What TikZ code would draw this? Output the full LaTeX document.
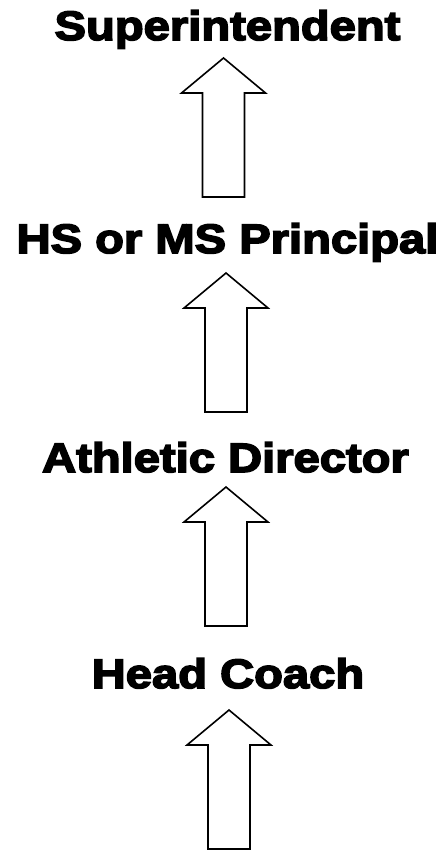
\documentclass[tikz,border=0pt]{standalone}
\usepackage{fontspec}
\newfontfamily\rolefont{Liberation Sans}[FakeStretch=1.15, BoldFeatures={FakeBold=4}]
\usepackage{tikz}
\usetikzlibrary{positioning}

\tikzset{
  role/.style={font=\rolefont\bfseries\fontsize{41}{48}\selectfont, anchor=base, inner sep=0pt},
  blockline/.style={draw=black, fill=white, line width=1.6pt, line join=miter},
  uparrow/.pic={\path[blockline] (-21,0) -- (-21,104) -- (-42,104) -- (0,139)
    -- (42,104) -- (21,104) -- (21,0) -- cycle;}
}

\begin{document}
\begin{tikzpicture}[x=1pt, y=1pt]
  \useasboundingbox (0,0) rectangle (445,-850);

  % Chain of command, top to bottom
  \node[role] (super) at (227.5,-40) {Superintendent};
  \node[role] (principal) at (227.5,-253) {HS or MS Principal};
  \node[role] (ad) at (225.5,-472) {Athletic Director};
  \node[role] (coach) at (228,-688) {Head Coach};

  % Block arrows pointing up
  \pic at (223.5,-197) {uparrow};
  \pic at (226,-412) {uparrow};
  \pic at (226,-626) {uparrow};
  \pic at (229,-849) {uparrow};

\end{tikzpicture}
\end{document}
